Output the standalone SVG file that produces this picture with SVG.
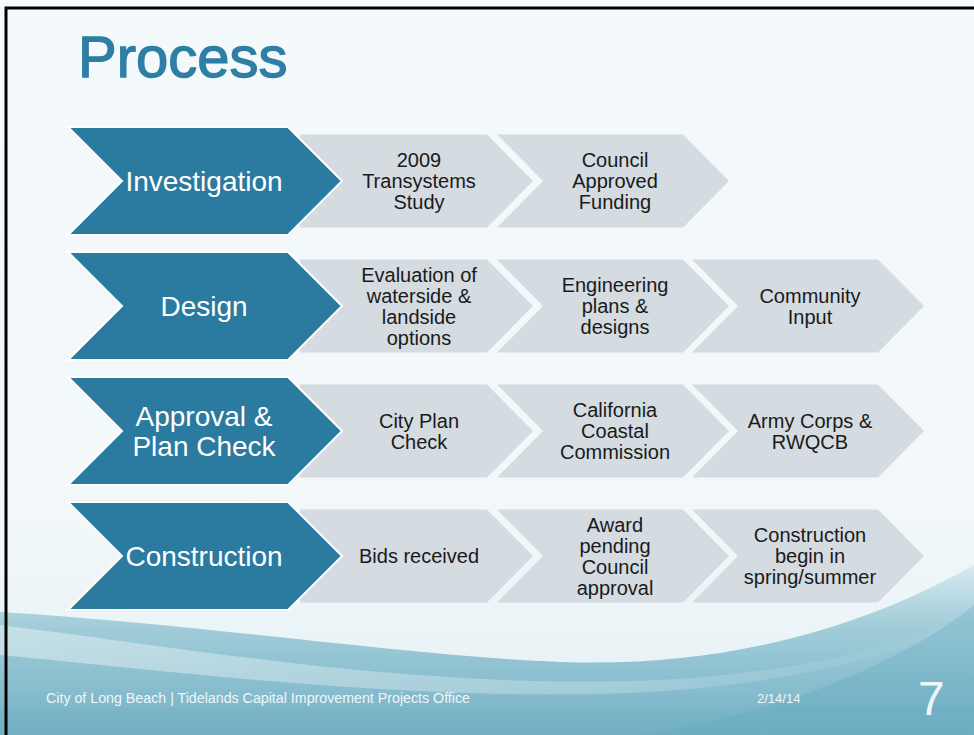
<svg xmlns="http://www.w3.org/2000/svg" width="974" height="735" viewBox="0 0 974 735">
<defs>
<linearGradient id="bg" x1="0" y1="0" x2="0" y2="1">
<stop offset="0" stop-color="#f4f9fb"/>
<stop offset="0.7" stop-color="#f2f8fa"/>
<stop offset="1" stop-color="#e4f0f4"/>
</linearGradient>
<linearGradient id="wave1" x1="0" y1="0" x2="0" y2="1">
<stop offset="0" stop-color="#d6eaf0"/>
<stop offset="0.35" stop-color="#a2cdd9"/>
<stop offset="1" stop-color="#74b1c5"/>
</linearGradient>
<linearGradient id="wave2" x1="0" y1="0" x2="1" y2="0">
<stop offset="0" stop-color="#ffffff" stop-opacity="0.4"/>
<stop offset="0.6" stop-color="#ffffff" stop-opacity="0.25"/>
<stop offset="1" stop-color="#ffffff" stop-opacity="0"/>
</linearGradient>
<linearGradient id="wave3" x1="0" y1="0" x2="0" y2="1">
<stop offset="0" stop-color="#90c3d2"/>
<stop offset="1" stop-color="#68acc1"/>
</linearGradient>
</defs>
<style>
.blue{fill:#2b7aa0;stroke:#ffffff;stroke-width:2;stroke-linejoin:miter}
.grey{fill:#d4dbe1}
.bt{font-family:"Liberation Sans",Arial,sans-serif;font-size:28px;fill:#ffffff;text-anchor:middle}
.gt{font-family:"Liberation Sans",Arial,sans-serif;font-size:20px;fill:#1a1a1a;text-anchor:middle}
.ft{font-family:"Liberation Sans",Arial,sans-serif;fill:#eef6f9}
</style>

<!-- background -->
<rect x="0" y="0" width="974" height="735" fill="url(#bg)"/>
<path d="M0,612 C200,624 400,655 560,662 C720,668 860,630 974,565 L974,735 L0,735 Z" fill="url(#wave1)"/>
<path d="M0,625 C200,650 420,690 660,680 C800,672 900,648 974,612 L974,622 C880,662 760,690 600,694 C380,698 180,672 0,655 Z" fill="url(#wave2)"/>
<path d="M640,735 C780,712 900,665 974,605 L974,735 Z" fill="url(#wave3)" opacity="0.8"/>
<rect x="0" y="708" width="974" height="27" fill="#70afc3" opacity="0.3"/>

<!-- frame -->
<path d="M6,735 L6,8 L974,8" fill="none" stroke="#000000" stroke-width="3"/>

<text x="78" y="77" font-family="'Liberation Sans',Arial,sans-serif" font-size="58" fill="#2e7ea5" stroke="#2e7ea5" stroke-width="1.3">Process</text>

<g id="connectors"/>

<!-- Row 1 -->
<g id="r1-a"><polygon class="grey" points="300,134.5 487,134.5 533,181 487,227.5 300,227.5"/>
<text class="gt" x="419" y="167">2009</text><text class="gt" x="419" y="188">Transystems</text><text class="gt" x="419" y="209">Study</text></g>
<g id="r1-b"><polygon class="grey" points="497,134.5 683,134.5 729,181 683,227.5 497,227.5 543,181"/>
<text class="gt" x="615" y="167">Council</text><text class="gt" x="615" y="188">Approved</text><text class="gt" x="615" y="209">Funding</text></g>
<g id="investigation"><polygon class="blue" points="68,127 288,127 342,181 288,235 68,235 122,181"/>
<text class="bt" x="204" y="191">Investigation</text></g>

<!-- Row 2 -->
<g id="r2-a"><polygon class="grey" points="300,259.5 487,259.5 533,306 487,352.5 300,352.5"/>
<text class="gt" x="419" y="281.5">Evaluation of</text><text class="gt" x="419" y="302.5">waterside &amp;</text><text class="gt" x="419" y="323.5">landside</text><text class="gt" x="419" y="344.5">options</text></g>
<g id="r2-b"><polygon class="grey" points="497,259.5 683,259.5 729,306 683,352.5 497,352.5 543,306"/>
<text class="gt" x="615" y="292">Engineering</text><text class="gt" x="615" y="313">plans &amp;</text><text class="gt" x="615" y="334">designs</text></g>
<g id="r2-c"><polygon class="grey" points="692,259.5 878,259.5 924,306 878,352.5 692,352.5 738,306"/>
<text class="gt" x="810" y="302.5">Community</text><text class="gt" x="810" y="323.5">Input</text></g>
<g id="design"><polygon class="blue" points="68,252 288,252 342,306 288,360 68,360 122,306"/>
<text class="bt" x="204" y="316">Design</text></g>

<!-- Row 3 -->
<g id="r3-a"><polygon class="grey" points="300,384.5 487,384.5 533,431 487,477.5 300,477.5"/>
<text class="gt" x="419" y="427.5">City Plan</text><text class="gt" x="419" y="448.5">Check</text></g>
<g id="r3-b"><polygon class="grey" points="497,384.5 683,384.5 729,431 683,477.5 497,477.5 543,431"/>
<text class="gt" x="615" y="417">California</text><text class="gt" x="615" y="438">Coastal</text><text class="gt" x="615" y="459">Commission</text></g>
<g id="r3-c"><polygon class="grey" points="692,384.5 878,384.5 924,431 878,477.5 692,477.5 738,431"/>
<text class="gt" x="810" y="427.5">Army Corps &amp;</text><text class="gt" x="810" y="448.5">RWQCB</text></g>
<g id="approval"><polygon class="blue" points="68,377 288,377 342,431 288,485 68,485 122,431"/>
<text class="bt" x="204" y="426">Approval &amp;</text><text class="bt" x="204" y="456">Plan Check</text></g>

<!-- Row 4 -->
<g id="r4-a"><polygon class="grey" points="300,509.5 487,509.5 533,556 487,602.5 300,602.5"/>
<text class="gt" x="419" y="563">Bids received</text></g>
<g id="r4-b"><polygon class="grey" points="497,509.5 683,509.5 729,556 683,602.5 497,602.5 543,556"/>
<text class="gt" x="615" y="531.5">Award</text><text class="gt" x="615" y="552.5">pending</text><text class="gt" x="615" y="573.5">Council</text><text class="gt" x="615" y="594.5">approval</text></g>
<g id="r4-c"><polygon class="grey" points="692,509.5 878,509.5 924,556 878,602.5 692,602.5 738,556"/>
<text class="gt" x="810" y="542">Construction</text><text class="gt" x="810" y="563">begin in</text><text class="gt" x="810" y="584">spring/summer</text></g>
<g id="construction"><polygon class="blue" points="68,502 288,502 342,556 288,610 68,610 122,556"/>
<text class="bt" x="204" y="566">Construction</text></g>

<!-- footer -->
<text class="ft" x="46" y="703" font-size="14" textLength="424" lengthAdjust="spacingAndGlyphs">City of Long Beach | Tidelands Capital Improvement Projects Office</text>
<text class="ft" x="757" y="703" font-size="13">2/14/14</text>
<text class="ft" x="918" y="715" font-size="48" fill="#ffffff">7</text>
</svg>
